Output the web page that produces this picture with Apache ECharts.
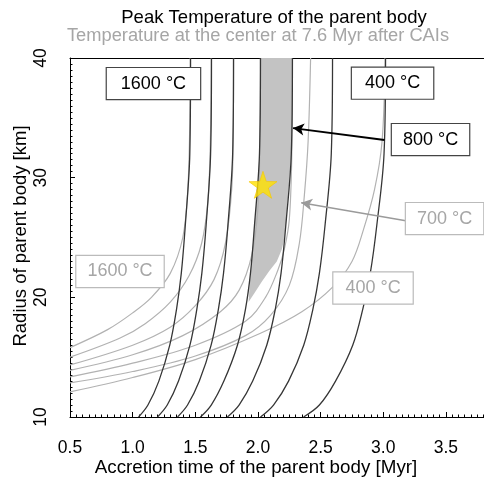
<!DOCTYPE html>
<html><head><meta charset="utf-8">
<script src="https://cdn.jsdelivr.net/npm/echarts@6/dist/echarts.min.js"></script>
<style>html,body{margin:0;padding:0;background:#fff}#c{width:484px;height:483px}</style>
</head><body><div id="c"></div>
<script>
// Peak temperature contours (black): accretion time [Myr] at each radius [km]
const peakRadii = [40, 32, 26, 22, 19, 16, 13, 11, 10];
const peak1600 = [1.462, 1.456, 1.420, 1.388, 1.350, 1.296, 1.209, 1.122, 1.047];
const peak1400 = [1.629, 1.622, 1.586, 1.552, 1.512, 1.457, 1.366, 1.276, 1.198];
const peak1200 = [1.805, 1.798, 1.760, 1.725, 1.684, 1.626, 1.532, 1.438, 1.358];
const peak1000 = [2.020, 2.012, 1.972, 1.940, 1.900, 1.836, 1.728, 1.627, 1.541];
const peak800  = [2.275, 2.266, 2.222, 2.184, 2.138, 2.070, 1.958, 1.849, 1.756];
const peak600  = [2.595, 2.585, 2.535, 2.490, 2.438, 2.365, 2.244, 2.124, 2.020];
const peak400  = [3.018, 3.006, 2.948, 2.896, 2.836, 2.756, 2.619, 2.490, 2.364];

// Centre temperature at 7.6 Myr (grey): accretion time / radius pairs
const center1600T = [0.5, 0.8, 1.0, 1.15, 1.3, 1.4, 1.44, 1.455, 1.46];
const center1600R = [15.8, 17.3, 18.7, 20.0, 22.0, 25.0, 29, 34, 40];
const center1400T = [0.5, 0.9, 1.1, 1.3, 1.45, 1.55, 1.6, 1.62, 1.628];
const center1400R = [15.0, 16.6, 17.8, 19.6, 21.8, 24.5, 28, 33, 40];
const center1200T = [0.5, 1.0, 1.3, 1.5, 1.65, 1.74, 1.79, 1.803, 1.805];
const center1200R = [14.35, 16.0, 17.5, 19.3, 21.5, 24.5, 29, 34, 40];
const center1000T = [0.5, 1.0, 1.4, 1.7, 1.85, 1.95, 2.0, 2.015, 2.02];
const center1000R = [13.9, 15.2, 16.8, 18.8, 20.6, 23.5, 27.5, 33, 40];
const center800T  = [0.5, 1.0, 1.5, 1.9, 2.06, 2.16, 2.21, 2.25, 2.27, 2.275];
const center800R  = [13.35, 14.5, 16.0, 18.0, 20.0, 22.3, 24.0, 26.5, 32, 40];
const center700T  = [0.5, 1.0, 1.5, 1.9, 2.1, 2.25, 2.33, 2.37, 2.4, 2.42];
const center700R  = [12.85, 13.8, 15.1, 16.8, 18.5, 21.0, 24.5, 28.5, 33, 40];
const center400T  = [0.5, 1.0, 1.5, 2.02, 2.35, 2.6, 2.75, 2.84, 2.93, 2.99, 3.015];
const center400R  = [12.1, 13.3, 14.8, 17.0, 18.8, 20.9, 23.0, 25.6, 29, 33, 40];

// Shaded window: between the 1000 and 800 °C peak curves, above the 800 °C centre curve
const windowT = [2.020, 2.016, 2.012, 1.995, 1.972, 1.940, 1.925, 1.975, 2.03, 2.09, 2.15, 2.19, 2.212, 2.222, 2.245, 2.266, 2.272, 2.275];
const windowR = [40, 36, 32, 29, 26, 22, 19.6, 20.4, 21.3, 22.2, 23.0, 24.0, 25.0, 26.0, 29, 32, 36, 40];

// Estimated parent body
const bodyT = [2.04];
const bodyR = [29.4];

const zip = (a, b) => a.map((v, i) => [v, b[i]]);
const zipR = (ts) => ts.map((t, i) => [t, peakRadii[i]]);

const FONT = 'Liberation Sans, Arial, sans-serif';
const BLACK = '#363636';
const GREY = '#b2b2b2';
const STAR = 'path://M50,0 L61.8,35.5 L100,36.3 L69.1,58.8 L80.9,95.1 L50,73.2 L19.1,95.1 L30.9,58.8 L0,36.3 L38.2,35.5 Z';

const chart = echarts.init(document.getElementById('c'), null, {renderer: 'canvas'});

function curve(data, color, width, z) {
  return {type: 'line', data, smooth: 0.35, symbol: 'none', silent: true, clip: true,
    lineStyle: {color, width}, z};
}

function boxLabel(text, t, r, color, border, padH) {
  return {
    coord: [t, r], value: text, symbol: 'rect', symbolSize: 0,
    label: {show: true, position: 'inside', formatter: text, color, fontFamily: FONT, fontSize: 18,
      backgroundColor: '#fff', borderColor: border, borderWidth: 1.2, padding: [7, padH, 6, padH]}
  };
}

const option = {
  animation: false,
  backgroundColor: '#fff',
  textStyle: {fontFamily: FONT},
  grid: {left: 70, top: 58, width: 438.6, height: 359, outerBoundsMode: 'none', containLabel: false},
  graphic: [
    {type: 'text', x: 274, y: 18, style: {text: 'Peak Temperature of the parent body', fill: '#000',
      font: '18.5px ' + FONT, textAlign: 'center', textVerticalAlign: 'middle'}},
    {type: 'text', x: 258, y: 36, style: {text: 'Temperature at the center at 7.6 Myr after CAIs', fill: '#a6a6a6',
      font: '18.3px ' + FONT, textAlign: 'center', textVerticalAlign: 'middle'}},
    {type: 'text', x: 256, y: 468, style: {text: 'Accretion time of the parent body [Myr]', fill: '#000',
      font: '18.8px ' + FONT, textAlign: 'center', textVerticalAlign: 'middle'}},
    {type: 'text', x: 21, y: 236, rotation: Math.PI / 2, style: {text: 'Radius of parent body [km]', fill: '#000',
      font: '18.5px ' + FONT, textAlign: 'center', textVerticalAlign: 'middle'}}
  ],
  xAxis: [{
    type: 'value', min: 0.5, max: 4, interval: 0.5,
    axisLine: {lineStyle: {color: '#000', width: 1}},
    axisTick: {inside: true, length: 5, lineStyle: {color: '#000'}},
    minorTick: {show: true, splitNumber: 10, length: 2.5, lineStyle: {color: '#000'}},
    axisLabel: {color: '#000', fontSize: 17.5, margin: 22, formatter: v => v.toFixed(1)},
    splitLine: {show: false}
  }, {
    type: 'value', min: 0.5, max: 4, position: 'top',
    axisLine: {lineStyle: {color: '#000', width: 1}},
    axisTick: {show: false}, axisLabel: {show: false}, splitLine: {show: false}
  }],
  yAxis: {
    type: 'value', min: 10, max: 40, interval: 10,
    axisLine: {show: true, lineStyle: {color: '#000', width: 1}},
    axisTick: {show: true, inside: true, length: 5, lineStyle: {color: '#000'}},
    minorTick: {show: true, splitNumber: 20, length: 2.5, lineStyle: {color: '#000'}},
    axisLabel: {color: '#000', fontSize: 17.5, rotate: 90, margin: 20},
    splitLine: {show: false}
  },
  series: [
    {
      type: 'custom', silent: true, z: 1,
      data: [0],
      renderItem: (params, api) => ({
        type: 'polygon',
        shape: {points: zip(windowT, windowR).map(p => api.coord(p))},
        style: {fill: '#c3c3c3'}
      })
    },
    curve(zip(center1600T, center1600R), GREY, 1.2, 2),
    curve(zip(center1400T, center1400R), GREY, 1.2, 2),
    curve(zip(center1200T, center1200R), GREY, 1.2, 2),
    curve(zip(center1000T, center1000R), GREY, 1.2, 2),
    curve(zip(center800T, center800R), GREY, 1.2, 2),
    curve(zip(center700T, center700R), GREY, 1.2, 2),
    curve(zip(center400T, center400R), GREY, 1.2, 2),
    curve(zipR(peak1600), BLACK, 1.3, 3),
    curve(zipR(peak1400), BLACK, 1.3, 3),
    curve(zipR(peak1200), BLACK, 1.3, 3),
    curve(zipR(peak1000), BLACK, 1.3, 3),
    curve(zipR(peak800), BLACK, 1.3, 3),
    curve(zipR(peak600), BLACK, 1.3, 3),
    curve(zipR(peak400), BLACK, 1.3, 3),
    {
      type: 'scatter', z: 5, silent: true,
      data: zip(bodyT, bodyR),
      symbol: STAR, symbolSize: [28, 27],
      itemStyle: {color: '#ffe100', borderColor: '#f5c800', borderWidth: 0.8},
      markLine: {
        silent: true, symbol: ['none', 'arrow'], symbolSize: [9, 11],
        label: {show: false},
        lineStyle: {color: '#000', width: 2, type: 'solid'},
        data: [[{coord: [3.01, 33.14]}, {coord: [2.28, 34.14]}]]
      }
    },
    {
      type: 'line', data: [], z: 4, silent: true,
      markLine: {
        silent: true, symbol: ['none', 'arrow'], symbolSize: [9, 11],
        label: {show: false},
        lineStyle: {color: '#9a9a9a', width: 1.5, type: 'solid'},
        data: [[{coord: [3.18, 26.4]}, {coord: [2.345, 27.9]}]]
      }
    },
    {
      type: 'scatter', data: [], z: 6, silent: true,
      markPoint: {
        silent: true,
        data: [
          boxLabel('1600 °C', 1.166, 37.86, '#000', '#444', 14),
          boxLabel('400 °C', 3.074, 37.9, '#000', '#444', 13),
          boxLabel('800 °C', 3.377, 33.18, '#000', '#444', 11),
          boxLabel('700 °C', 3.489, 26.58, '#a6a6a6', '#bbb', 11),
          boxLabel('1600 °C', 0.899, 22.16, '#a6a6a6', '#bbb', 11),
          boxLabel('400 °C', 2.918, 20.78, '#a6a6a6', '#bbb', 12)
        ]
      }
    }
  ]
};
chart.setOption(option);
</script>
</body></html>
